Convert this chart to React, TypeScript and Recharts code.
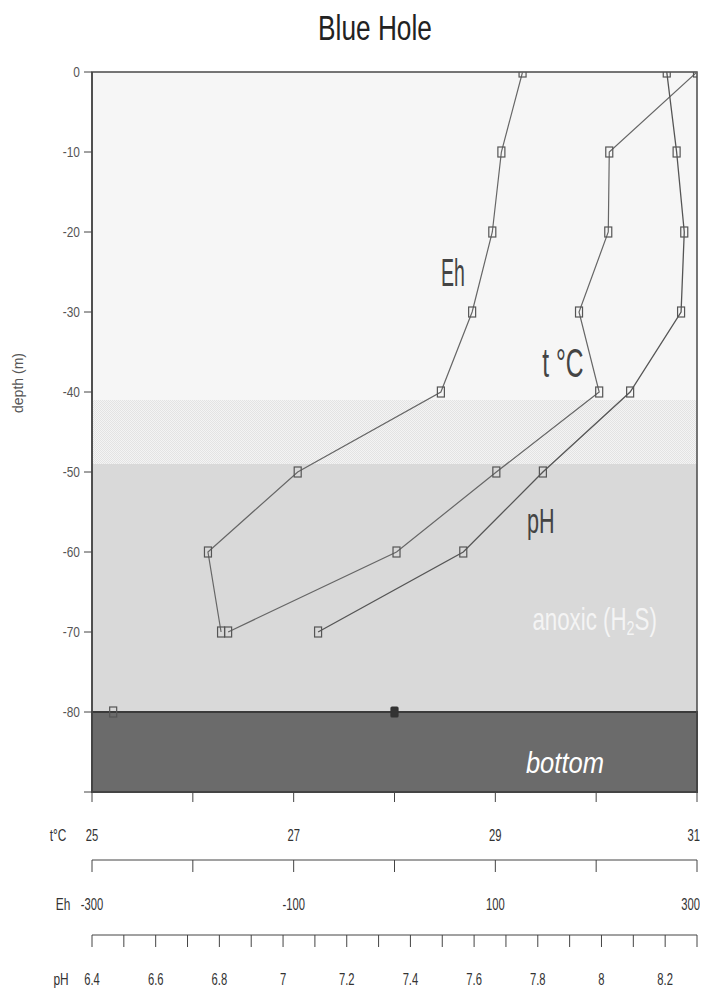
import React from 'react';
import { ScatterChart, Scatter, XAxis, YAxis, ReferenceArea, ReferenceDot } from 'recharts';

// ---- data ----
const depths = [0, -10, -20, -30, -40, -50, -60, -70];
const tempValues = [31.0, 30.13, 30.12, 29.83, 30.03, 29.01, 28.02, 26.35];
const ehValues = [127, 106, 97, 77, 46, -96, -185, -172];
const phValues = [8.205, 8.236, 8.26, 8.25, 8.09, 7.816, 7.566, 7.11];
const bottomDepths = [-80];
const bottomEhValues = [-279];
const bottomTempValues = [28.0];

// ---- axis ticks / labels ----
const tTicks = [25, 26, 27, 28, 29, 30, 31];
const tLabels = [25, 27, 29, 31];
const ehTicks = [-300, -200, -100, 0, 100, 200, 300];
const ehLabels = [-300, -100, 100, 300];
const phTicks = [6.4, 6.5, 6.6, 6.7, 6.8, 6.9, 7.0, 7.1, 7.2, 7.3, 7.4, 7.5, 7.6, 7.7, 7.8, 7.9, 8.0, 8.1, 8.2, 8.3];
const phLabels = [6.4, 6.6, 6.8, 7.0, 7.2, 7.4, 7.6, 7.8, 8.0, 8.2];
const depthTicks = [0, -10, -20, -30, -40, -50, -60, -70, -80, -90];
const depthLabels = [0, -10, -20, -30, -40, -50, -60, -70, -80];

// ---- zones (depth, m) ----
const oxicZone = [0, -41];
const transitionZone = [-41, -49];
const anoxicZone = [-49, -80];
const bottomZone = [-80, -90];

const tempData = depths.map((d, i) => ({ depth: d, t: tempValues[i] }));
const ehData = depths.map((d, i) => ({ depth: d, eh: ehValues[i] }));
const phData = depths.map((d, i) => ({ depth: d, ph: phValues[i] }));
const bottomEhData = bottomDepths.map((d, i) => ({ depth: d, eh: bottomEhValues[i] }));
const bottomTempData = bottomDepths.map((d, i) => ({ depth: d, t: bottomTempValues[i] }));

const FONT = '"Liberation Sans", Arial, "DejaVu Sans", sans-serif';

function CText(props: any) {
  const { x, y, fs, sx, anchor = 'middle', fill = '#333', italic = false, children } = props;
  return (
    <g transform={`translate(${x},${y}) scale(${sx},1)`}>
      <text x={0} y={0} textAnchor={anchor} fontSize={fs} fontFamily={FONT} fill={fill} fontStyle={italic ? 'italic' : 'normal'}>
        {children}
      </text>
    </g>
  );
}

const has = (arr: number[], v: number) => arr.some((a) => Math.abs(a - v) < 1e-6);

const makeXTick = (labels: number[], dy: number, maxVal: number) => (p: any) => {
  const v = p.payload.value;
  if (!has(labels, v)) return <g />;
  const txt = Math.abs(v - Math.round(v)) < 1e-6 ? String(Math.round(v)) : v.toFixed(1);
  const atEdge = Math.abs(v - maxVal) < 1e-6;
  return (
    <CText x={atEdge ? p.x + 3 : p.x} y={p.y + dy} fs={17} sx={0.66} fill="#333" anchor={atEdge ? 'end' : 'middle'}>
      {txt}
    </CText>
  );
};

const yTick = (p: any) => {
  const v = p.payload.value;
  if (!has(depthLabels, v)) return <g />;
  return (
    <CText x={p.x} y={p.y + 5} fs={14} sx={0.85} anchor="end" fill="#555">
      {String(v)}
    </CText>
  );
};

const axisName = (name: string, dx: number, dy: number) => (p: any) => {
  const vb = p.viewBox;
  return (
    <CText x={vb.x + dx} y={vb.y + dy} fs={17} sx={0.7} fill="#333">
      {name}
    </CText>
  );
};

const depthLabel = (p: any) => {
  const vb = p.viewBox;
  const x = vb.x + 10;
  const y = vb.y + vb.height / 2 - 49;
  return (
    <text x={x} y={y} transform={`rotate(-90, ${x}, ${y})`} textAnchor="middle" dominantBaseline="central" fontSize={14} fontFamily={FONT} fill="#555">
      depth (m)
    </text>
  );
};

const hollowSquare = (p: any) => (
  <rect x={p.cx - 3.5} y={p.cy - 5} width={7} height={10} fill="none" stroke="#555" strokeWidth={1.2} />
);
const filledSquare = (p: any) => (
  <rect x={p.cx - 3.5} y={p.cy - 5} width={7} height={10} fill="#333" stroke="#333" strokeWidth={1.2} rx={1} />
);

const ditherShape = (p: any) => (
  <g>
    <defs>
      <pattern id="dither" width="2" height="2" patternUnits="userSpaceOnUse">
        <rect width="2" height="2" fill="#f4f4f4" />
        <rect width="1" height="1" fill="#e3e3e3" />
        <rect x="1" y="1" width="1" height="1" fill="#e3e3e3" />
      </pattern>
    </defs>
    <rect x={p.x} y={p.y} width={p.width} height={p.height} fill="url(#dither)" />
  </g>
);

const annot = (text: any, fs: number, sx: number, fill: string, italic = false) => (p: any) => {
  const vb = p.viewBox;
  const cx = vb.x + (vb.width || 0) / 2;
  const cy = vb.y + (vb.height || 0) / 2;
  return (
    <CText x={cx} y={cy} fs={fs} sx={sx} fill={fill} italic={italic}>
      {text}
    </CText>
  );
};

const lineStyle = { stroke: '#666', strokeWidth: 1.2 };

export default function App() {
  return (
    <div style={{ position: 'relative', width: 700, height: 982 }}>
      <style>{'html{overflow:hidden}'}</style>
      <div
        style={{
          position: 'absolute',
          left: 267,
          top: 2,
          width: 200,
          textAlign: 'center',
          fontFamily: FONT,
          fontSize: 35,
          lineHeight: '35px',
          color: '#222',
          transform: 'scaleX(0.75)',
          transformOrigin: 'center',
        }}
      >
        Blue Hole
      </div>
      <ScatterChart width={700} height={982} margin={{ top: 64, right: 11, bottom: 5, left: 0 }}>
        <XAxis
          xAxisId="a_t"
          type="number"
          dataKey="t"
          domain={[25, 31]}
          ticks={tTicks}
          interval={0}
          allowDataOverflow
          height={68}
          tickSize={10}
          tickMargin={0}
          axisLine={{ stroke: '#444', strokeWidth: 1.5 }}
          tickLine={{ stroke: '#444' }}
          tick={makeXTick(tLabels, 39, 31)}
          label={axisName('t°C', -34, 49)}
        />
        <XAxis
          xAxisId="b_eh"
          type="number"
          dataKey="eh"
          domain={[-300, 300]}
          ticks={ehTicks}
          interval={0}
          allowDataOverflow
          height={75}
          tickSize={12}
          tickMargin={0}
          axisLine={{ stroke: '#444' }}
          tickLine={{ stroke: '#444' }}
          tick={makeXTick(ehLabels, 38, 300)}
          label={axisName('Eh', -29, 50)}
        />
        <XAxis
          xAxisId="c_ph"
          type="number"
          dataKey="ph"
          domain={[6.4, 8.3]}
          ticks={phTicks}
          interval={0}
          allowDataOverflow
          height={50}
          tickSize={12}
          tickMargin={0}
          axisLine={{ stroke: '#444' }}
          tickLine={{ stroke: '#444' }}
          tick={makeXTick(phLabels, 38, 8.3)}
          label={axisName('pH', -31, 50)}
        />
        <YAxis
          type="number"
          dataKey="depth"
          domain={[-90, 0]}
          ticks={depthTicks}
          interval={0}
          allowDataOverflow
          width={84}
          tickSize={8}
          tickMargin={4}
          axisLine={{ stroke: '#444', strokeWidth: 1.5 }}
          tickLine={{ stroke: '#444' }}
          tick={yTick}
          label={depthLabel}
        />

        <ReferenceArea xAxisId="a_t" y1={oxicZone[1]} y2={oxicZone[0]} fill="#f6f6f6" fillOpacity={1} stroke="none" />
        <ReferenceArea xAxisId="a_t" y1={transitionZone[1]} y2={transitionZone[0]} shape={ditherShape} />
        <ReferenceArea xAxisId="a_t" y1={anoxicZone[1]} y2={anoxicZone[0]} fill="#d9d9d9" fillOpacity={1} stroke="none" />
        <ReferenceArea xAxisId="a_t" y1={bottomZone[1]} y2={bottomZone[0]} fill="#6b6b6b" fillOpacity={1} stroke="#3a3a3a" strokeWidth={2} />
        <ReferenceArea xAxisId="a_t" y1={-90} y2={0} fill="none" stroke="#4a4a4a" strokeWidth={1.5} />

        <ReferenceDot xAxisId="a_t" x={28.58} y={-26.75} r={1} fill="none" stroke="none" label={annot('Eh', 39, 0.5, '#444')} />
        <ReferenceDot xAxisId="a_t" x={29.67} y={-38.1} r={1} fill="none" stroke="none" label={annot('t °C', 41, 0.6, '#444')} />
        <ReferenceDot xAxisId="a_t" x={29.45} y={-57.6} r={1} fill="none" stroke="none" label={annot('pH', 36, 0.6, '#444')} />
        <ReferenceDot
          xAxisId="a_t"
          x={29.985}
          y={-69.75}
          r={1}
          fill="none"
          stroke="none"
          label={annot(
            <>
              anoxic (H<tspan fontSize={20} dy={5}>2</tspan>
              <tspan dy={-5}>S)</tspan>
            </>,
            31,
            0.72,
            '#f4f4f4'
          )}
        />
        <ReferenceDot xAxisId="a_t" x={29.69} y={-87.6} r={1} fill="none" stroke="none" label={annot('bottom', 29, 0.88, '#ffffff', true)} />

        <Scatter xAxisId="b_eh" data={ehData} line={lineStyle} lineType="joint" shape={hollowSquare} isAnimationActive={false} />
        <Scatter xAxisId="a_t" data={tempData} line={lineStyle} lineType="joint" shape={hollowSquare} isAnimationActive={false} />
        <Scatter xAxisId="c_ph" data={phData} line={{ stroke: '#555', strokeWidth: 1.3 }} lineType="joint" shape={hollowSquare} isAnimationActive={false} />
        <Scatter xAxisId="b_eh" data={bottomEhData} shape={hollowSquare} isAnimationActive={false} />
        <Scatter xAxisId="a_t" data={bottomTempData} shape={filledSquare} isAnimationActive={false} />
      </ScatterChart>
    </div>
  );
}
